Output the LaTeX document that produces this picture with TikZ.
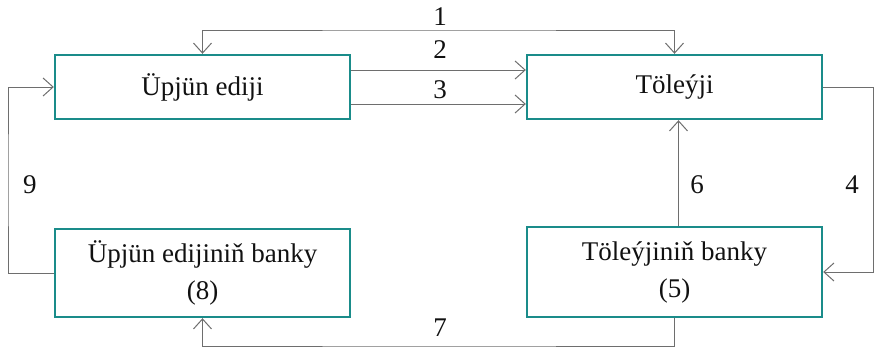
\documentclass[tikz,border=0pt]{standalone}
\usepackage{fontspec}
\setmainfont{Liberation Serif}
\usetikzlibrary{arrows.meta}
\definecolor{boxteal}{HTML}{1A8C8A}
\definecolor{linegray}{HTML}{6E6E6E}
\definecolor{txt}{HTML}{111111}
\tikzset{
  box/.style={draw=boxteal, line width=2.4pt, inner sep=0pt, align=center,
    text=txt, font=\fontsize{27}{37}\selectfont},
  conn/.style={draw=linegray, line width=1pt,
    arrows={-Straight Barb[length=10pt,width=18pt,line width=1pt]}},
  both/.style={draw=linegray, line width=1pt,
    arrows={Straight Barb[length=10pt,width=18pt,line width=1pt]-Straight Barb[length=10pt,width=18pt,line width=1pt]}},
  lbl/.style={text=txt, font=\fontsize{27}{32}\selectfont, inner sep=0pt}
}
\begin{document}
\begin{tikzpicture}[x=1pt,y=-1pt]
\useasboundingbox (0,0) rectangle (875,348);
\node[box, minimum width=295pt, minimum height=64pt] (A) at (202.5,87) {Üpjün ediji};
\node[box, minimum width=295pt, minimum height=64pt] (B) at (674.5,87) {Töleýji};
\node[box, minimum width=295pt, minimum height=88pt] (C) at (202.5,273) {Üpjün edijiniň banky\\(8)};
\node[box, minimum width=295pt, minimum height=90pt] (D) at (674.5,272) {Töleýjiniň banky\\(5)};
\coordinate (t1) at (440,30);
\coordinate (r4) at (873,180);
\coordinate (b7) at (440,346);
\coordinate (l9) at (8,180);
\draw[both] (A.north) |- (t1) -| (B.north);
\draw[conn] ([yshift=17pt]A.east) -- ([yshift=17pt]B.west);
\draw[conn] ([yshift=-17pt]A.east) -- ([yshift=-17pt]B.west);
\draw[conn] (B.east) -| (r4) |- (D.east);
\draw[conn] ([xshift=4pt]D.north) -- ([xshift=4pt]B.south);
\draw[conn] (D.south) |- (b7) -| (C.south);
\draw[conn] (C.west) -| (l9) |- (A.west);
\node[lbl] (n1) at (440,17) {1};
\node[lbl] (n2) at (440,50) {2};
\node[lbl] (n3) at (440,90) {3};
\node[lbl] (n4) at (852,185) {4};
\node[lbl] (n6) at (697,185) {6};
\node[lbl] (n7) at (440,328) {7};
\node[lbl] (n9) at (30,185) {9};
\end{tikzpicture}
\end{document}
